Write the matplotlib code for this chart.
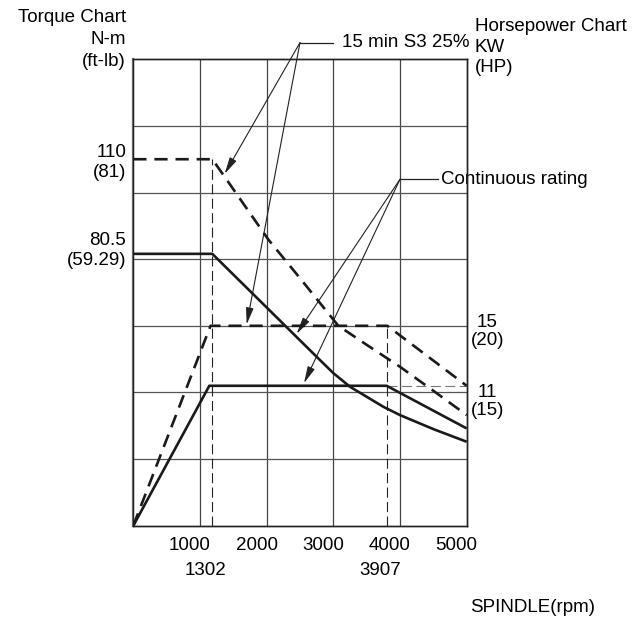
import matplotlib
matplotlib.use("Agg")
import matplotlib.pyplot as plt
import matplotlib.transforms as mtransforms

plt.rcParams['font.family'] = ['Liberation Sans', 'DejaVu Sans']
plt.rcParams['font.size'] = 13.5

# ── Data ────────────────────────────────────────────
# torque curves, N-m vs rpm
s3_torque_rpm = [0, 1185, 1350, 2025, 2500, 3075, 3500, 4000, 4500, 5000]
s3_torque_nm  = [110, 110, 105.3, 85.9, 74.3, 60, 54.3, 47.7, 40.5, 33.2]

cont_torque_rpm = [0, 1185, 2750, 3000, 3250, 3500, 3750, 4000, 4500, 5000]
cont_torque_nm  = [81.6, 81.6, 50.7, 45.8, 41.7, 38.7, 35.7, 33.2, 29.0, 25.2]

# power curves, kW vs rpm
s3_power_rpm = [0, 1158, 3810, 5000]
s3_power_kw  = [0, 15, 15, 10.5]

cont_power_rpm = [0, 1140, 3800, 5000]
cont_power_kw  = [0, 10.5, 10.5, 7.3]

base_speeds = [1185, 3810]          # where the thin dashed verticals sit
base_labels = ['1302', '3907']
base_levels = [110, 60]             # top of each vertical (torque units)

x_ticks = [1000, 2000, 3000, 4000, 5000]
x_ticklabels = ['1000', '2000', '3000', '4000', '5000']

# ── Figure ──────────────────────────────────────────
fig = plt.figure(figsize=(6.43, 6.22), dpi=100)
ax = fig.add_axes([0.2073, 0.1548, 0.5185, 0.7499])
ax.set_xlim(0, 5000)
ax.set_ylim(0, 140)
axp = ax.twinx()
axp.set_ylim(0, 35)

for v in range(1000, 5000, 1000):
    ax.axvline(v, color='#444444', lw=0.9, zorder=1)
for h in range(20, 140, 20):
    ax.axhline(h, color='#555555', lw=0.9, zorder=1)

for a in (ax, axp):
    for s in a.spines.values():
        s.set_linewidth(1.0)
        s.set_color('#222222')
    a.set_yticks([])
ax.spines['left'].set_color('#777777')
ax.spines['left'].set_linewidth(1.6)

ax.set_xticks(x_ticks)
ax.set_xticklabels(x_ticklabels)
ax.tick_params(axis='x', length=0, pad=8)
shift = mtransforms.ScaledTranslation(-10 / 100, 0, fig.dpi_scale_trans)
for lab in ax.get_xticklabels():
    lab.set_transform(lab.get_transform() + shift)

thick = dict(color='#1a1a1a', lw=1.9, solid_capstyle='butt', zorder=4)
ax.plot(s3_torque_rpm, s3_torque_nm, dashes=(5, 3), **thick)
ax.plot(cont_torque_rpm, cont_torque_nm, **thick)
axp.plot(s3_power_rpm, s3_power_kw, dashes=(5, 3), **thick)
axp.plot(cont_power_rpm, cont_power_kw, **thick)

# thin dashed construction lines
for rpm, top in zip(base_speeds, base_levels):
    ax.plot([rpm, rpm], [0, top], color='#222222', lw=0.8, dashes=(9, 4), zorder=3)
axp.plot([cont_power_rpm[2], cont_power_rpm[3]], [cont_power_kw[2]] * 2,
         color='#777777', lw=0.8, dashes=(9, 4), zorder=3)

# ── labels around the frame ─────────────────────────
off_l = mtransforms.ScaledTranslation(-7 / 100, 0, fig.dpi_scale_trans)
ax.text(0, 109, '110\n(81)', ha='right', va='center', multialignment='right',
        transform=ax.transData + off_l, linespacing=1.22)
ax.text(0, 82.6, '80.5\n(59.29)', ha='right', va='center', multialignment='right',
        transform=ax.transData + off_l, linespacing=1.22)

off_r = mtransforms.ScaledTranslation(4 / 100, 0, fig.dpi_scale_trans)
axp.text(5000, 14.55, '15\n(20)', ha='left', va='center', multialignment='center',
         transform=axp.transData + off_r, linespacing=1.08)
axp.text(5000, 9.35, '11\n(15)', ha='left', va='center', multialignment='center',
         transform=axp.transData + off_r, linespacing=1.08)

off_b = mtransforms.ScaledTranslation(-7 / 100, -45 / 100, fig.dpi_scale_trans)
for rpm, lab in zip(base_speeds, base_labels):
    ax.text(rpm, 0, lab, ha='center', va='center',
            transform=ax.transData + off_b)

fig.text(126 / 643, 1 - 39.5 / 622, 'Torque Chart\nN-m\n(ft-lb)', ha='right',
         va='center', multialignment='right', linespacing=1.36)
fig.text(475 / 643, 1 - 47 / 622, 'Horsepower Chart\nKW\n(HP)', ha='left',
         va='center', multialignment='left', linespacing=1.27)
fig.text(595 / 643, 1 - 608 / 622, 'SPINDLE(rpm)', ha='right', va='center')

# ── leader notes ────────────────────────────────────
arrow = dict(arrowstyle='-|>,head_length=0.75,head_width=0.17', color='#222222',
             lw=0.8, shrinkA=0, shrinkB=0)

s3_hub = (2500, 145)
ax.plot([s3_hub[0], 3000], [s3_hub[1]] * 2, color='#222222', lw=0.9, clip_on=False)
ax.text(3130, s3_hub[1], '15 min S3 25%', ha='left', va='center', clip_on=False)
for tip in [(1370, 105.6), (1700, 60.4)]:
    ax.annotate('', xy=tip, xytext=s3_hub, arrowprops=arrow, annotation_clip=False)

cont_hub = (4000, 104)
ax.plot([cont_hub[0], 4570], [cont_hub[1]] * 2, color='#222222', lw=0.9, clip_on=False)
ax.text(4620, cont_hub[1], 'Continuous rating', ha='left', va='center', clip_on=False)
for tip in [(2450, 57.6), (2560, 42.8)]:
    ax.annotate('', xy=tip, xytext=cont_hub, arrowprops=arrow, annotation_clip=False)

fig.savefig('out.png', dpi=100)
